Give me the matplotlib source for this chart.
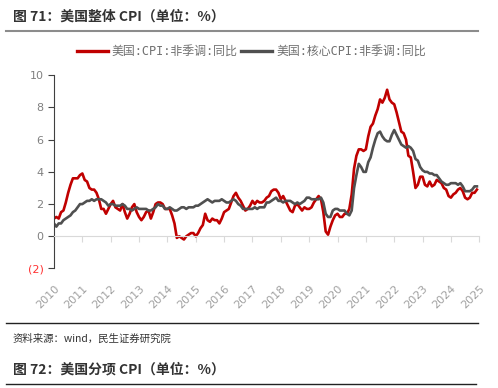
import numpy as np
import matplotlib.pyplot as plt

plt.rcParams['font.family'] = ['DejaVu Sans', 'Noto Sans CJK SC']

# 美国CPI同比, 月度, 2010-09 ~ 2025-08
cpi = [1.1, 1.2, 1.1, 1.5,
       1.6, 2.1, 2.7, 3.2, 3.6, 3.6, 3.6, 3.8, 3.9, 3.5, 3.4, 3.0,
       2.9, 2.9, 2.7, 2.3, 1.7, 1.7, 1.4, 1.7, 2.0, 2.2, 1.8, 1.7,
       1.6, 2.0, 1.5, 1.1, 1.4, 1.8, 2.0, 1.5, 1.2, 1.0, 1.2, 1.5,
       1.6, 1.1, 1.5, 2.0, 2.1, 2.1, 2.0, 1.7, 1.7, 1.7, 1.3, 0.8,
       -0.1, 0.0, -0.1, -0.2, 0.0, 0.1, 0.2, 0.2, 0.0, 0.2, 0.5, 0.7,
       1.4, 1.0, 0.9, 1.1, 1.0, 1.0, 0.8, 1.1, 1.5, 1.6, 1.7, 2.1,
       2.5, 2.7, 2.4, 2.2, 1.9, 1.6, 1.7, 1.9, 2.2, 2.0, 2.2, 2.1,
       2.1, 2.2, 2.4, 2.5, 2.8, 2.9, 2.9, 2.7, 2.3, 2.5, 2.2, 1.9,
       1.6, 1.5, 1.9, 2.0, 1.8, 1.6, 1.8, 1.7, 1.7, 1.8, 2.1, 2.3,
       2.5, 2.3, 1.5, 0.3, 0.1, 0.6, 1.0, 1.3, 1.4, 1.2, 1.2, 1.4,
       1.4, 1.7, 2.6, 4.2, 5.0, 5.4, 5.4, 5.3, 5.4, 6.2, 6.8, 7.0,
       7.5, 7.9, 8.5, 8.3, 8.6, 9.1, 8.5, 8.3, 8.2, 7.7, 7.1, 6.5,
       6.4, 6.0, 5.0, 4.9, 4.0, 3.0, 3.2, 3.7, 3.7, 3.2, 3.1, 3.4,
       3.1, 3.2, 3.5, 3.4, 3.3, 3.0, 2.9, 2.5, 2.4, 2.6, 2.7, 2.9,
       3.0, 2.8, 2.4, 2.3, 2.4, 2.7, 2.7, 2.9]

core = [0.8, 0.6, 0.8, 0.8,
        1.0, 1.1, 1.2, 1.3, 1.5, 1.6, 1.8, 2.0, 2.0, 2.1, 2.2, 2.2,
        2.3, 2.2, 2.3, 2.3, 2.3, 2.2, 2.1, 1.9, 2.0, 2.0, 1.9, 1.9,
        1.9, 2.0, 1.9, 1.7, 1.7, 1.6, 1.7, 1.8, 1.7, 1.7, 1.7, 1.7,
        1.6, 1.6, 1.7, 1.8, 2.0, 1.9, 1.9, 1.7, 1.7, 1.8, 1.7, 1.6,
        1.6, 1.7, 1.8, 1.8, 1.7, 1.8, 1.8, 1.8, 1.9, 1.9, 2.0, 2.1,
        2.2, 2.3, 2.2, 2.1, 2.2, 2.2, 2.2, 2.3, 2.2, 2.1, 2.1, 2.2,
        2.3, 2.2, 2.0, 1.9, 1.7, 1.7, 1.7, 1.7, 1.7, 1.8, 1.7, 1.8,
        1.8, 1.8, 2.1, 2.1, 2.2, 2.3, 2.4, 2.2, 2.2, 2.1, 2.2, 2.2,
        2.2, 2.1, 2.0, 2.1, 2.0, 2.1, 2.2, 2.4, 2.4, 2.3, 2.3, 2.3,
        2.3, 2.4, 2.1, 1.4, 1.2, 1.2, 1.6, 1.7, 1.7, 1.6, 1.6, 1.6,
        1.4, 1.3, 1.6, 3.0, 3.8, 4.5, 4.3, 4.0, 4.0, 4.6, 4.9, 5.5,
        6.0, 6.4, 6.5, 6.2, 6.0, 5.9, 5.9, 6.3, 6.6, 6.3, 6.0, 5.7,
        5.6, 5.5, 5.6, 5.5, 5.3, 4.8, 4.7, 4.3, 4.1, 4.0, 4.0, 3.9,
        3.9, 3.8, 3.8, 3.6, 3.4, 3.3, 3.2, 3.2, 3.3, 3.3, 3.3, 3.2,
        3.3, 3.1, 2.8, 2.8, 2.8, 2.9, 3.1, 3.1]

years = [str(y) for y in range(2010, 2026)]
yticks = [-2, 0, 2, 4, 6, 8, 10]
ylabels = ['(2)', '0', '2', '4', '6', '8', '10']

fig = plt.figure(figsize=(4.98, 3.88), dpi=100)
ax = fig.add_axes([0.1084, 0.308, 0.854, 0.498])

x = np.arange(len(cpi))
ax.plot(x, cpi, color='#c00000', lw=1.9, label='美国:CPI:非季调:同比')
ax.plot(x, core, color='#505050', lw=1.9, label='美国:核心CPI:非季调:同比')

ax.set_xlim(0, 180)
ax.set_ylim(-2, 10)
ax.spines['top'].set_visible(False)
ax.spines['right'].set_visible(False)
ax.spines['bottom'].set_position(('data', 0))
ax.spines['bottom'].set_color('#d9d9d9')
ax.spines['left'].set_color('#404040')

ax.set_xticks(np.arange(0, 181, 12), years, rotation=45, ha='right',
              rotation_mode='anchor')
ax.tick_params(axis='x', color='#d9d9d9', length=4, labelcolor='#a0a0a0',
               labelsize=8, pad=30)
ax.set_yticks(yticks, ylabels)
ax.tick_params(axis='y', color='#404040', length=4, labelcolor='#808080',
               labelsize=8)
ax.get_yticklabels()[0].set_color('#ff3030')

leg = fig.legend(loc='center', bbox_to_anchor=(0.505, 0.867), ncol=2,
                 frameon=False, handlelength=2.6, columnspacing=0.3,
                 handletextpad=0.3, handleheight=0.5,
                 prop={'family': ['DejaVu Sans Mono', 'Noto Sans CJK SC'], 'size': 8.6})
for t in leg.get_texts():
    t.set_color('#707070')
for h in leg.get_lines():
    h.set_linewidth(2.4)

# 标题和页面元素
fig.text(0.026, 0.958, '图 71：美国整体 CPI（单位：%）', family='Noto Sans CJK SC',
         fontweight='bold', fontsize=10, color='#333333', va='center')
fig.add_artist(plt.Line2D([0.012, 0.96], [0.92, 0.92], color='#8c8c8c', lw=1.5))
fig.add_artist(plt.Line2D([0.012, 0.96], [0.168, 0.168], color='#222222', lw=1))
fig.text(0.026, 0.126, '资料来源：wind，民生证券研究院', family='Noto Sans CJK SC',
         fontsize=7.5, color='#333333', va='center')
fig.text(0.026, 0.047, '图 72：美国分项 CPI（单位：%）', family='Noto Sans CJK SC',
         fontweight='bold', fontsize=10, color='#333333', va='center')
fig.add_artist(plt.Line2D([0.012, 0.955], [0.01, 0.01], color='#222222', lw=1))

fig.savefig('out.png', dpi=100)
